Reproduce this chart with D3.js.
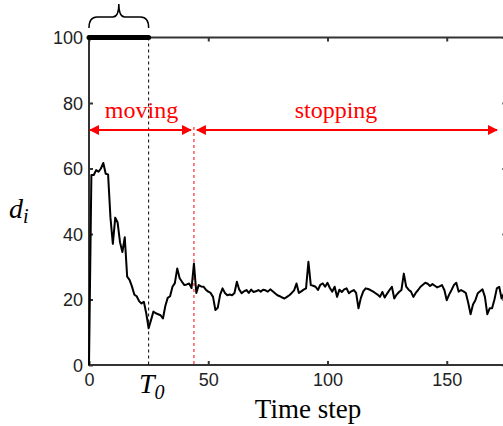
<!DOCTYPE html>
<html>
<head>
<meta charset="utf-8">
<script src="https://cdn.jsdelivr.net/npm/d3@7"></script>
<style>
  body { margin: 0; background: #fff; }
  .tick text { font-family: "Liberation Sans", Arial, sans-serif; font-size: 18px; fill: #222; }
  .serif { font-family: "Liberation Serif", "Times New Roman", serif; }
</style>
</head>
<body>
<div class="chart"></div>
<script>
'use strict';

// time steps 0..175 and d_i
var distances = [
  0, 58, 58, 59.5, 59, 60, 61.7, 58.4, 58.2, 45,
  37, 45, 43.5, 37.5, 34.5, 39, 27, 26, 24, 21.5,
  21, 19.5, 18.8, 19.3, 15.8, 11.2, 13.7, 16.3, 15.8, 15.5,
  15.2, 14.2, 18, 20.5, 21, 23.9, 25, 29.5, 26.5, 25.4,
  24.4, 24.6, 24.9, 23.5, 31, 22, 24.4, 24, 23.9, 23,
  22.4, 22, 20.8, 16.8, 17.5, 21.5, 23.4, 22, 21.3, 21.5,
  21.3, 22, 25.4, 23, 21.9, 22.5, 22.9, 22, 23, 22.3,
  22.5, 22.9, 22.4, 23, 22.8, 22.4, 23.1, 22.5, 21.9, 21.3,
  21, 20.6, 20.3, 20.8, 21.3, 22, 22.8, 24.9, 22, 22.5,
  23, 23.4, 31.5, 24.4, 24.2, 23.9, 22.9, 24.5, 24.9, 23.9,
  25.1, 23.5, 22.4, 23.9, 20.8, 23, 22.3, 23.1, 23.4, 21.9,
  22.5, 22.9, 22, 17.3, 20.5, 22.5, 23.4, 23.2, 22.9, 22.5,
  22, 21.5, 20.8, 22.3, 20.6, 21.8, 22.9, 23.9, 20.3, 21.5,
  22.3, 22.9, 27.9, 23.9, 23, 22.4, 20.8, 22, 22.9, 23.9,
  24.5, 25.1, 24.8, 24.1, 24.7, 24.2, 23.7, 24, 24.4, 22.9,
  19.8, 21.5, 22.9, 24.4, 25.1, 22.4, 22.9, 22.5, 22, 19,
  15.5, 18.5, 19.8, 21.9, 22.5, 23.1, 20.8, 15.5, 17.3, 17.3,
  20, 23.4, 23.9, 20.3, 21.9, 22
];
var xTicks = [0, 50, 100, 150];
var yTicks = [0, 20, 40, 60, 80, 100];
var T0 = 25;          // end of the moving phase (dashed black line)
var tStop = 44;       // start of the stopping phase (dashed red line)
var topValue = 100;   // thick bar at the top for t in [0, T0]

var width = 503, height = 426;
var margin = {left: 89, top: 37.5, bottom: 61};

var svg = d3.select('.chart').append('svg')
  .attr('width', width)
  .attr('height', height);

var x = d3.scaleLinear().domain([0, 175]).range([margin.left, margin.left + 175 * 2.385]);
var y = d3.scaleLinear().domain([0, 100]).range([height - margin.bottom, margin.top]);

var axisColor = '#333';

// frame
svg.append('rect')
  .attr('x', x(0)).attr('y', y(100))
  .attr('width', x(175) - x(0)).attr('height', y(0) - y(100))
  .attr('fill', 'none')
  .attr('stroke', axisColor)
  .attr('stroke-width', 2);

// axes with inward ticks
var gx = svg.append('g')
  .attr('transform', 'translate(0,' + y(0) + ')')
  .call(d3.axisBottom(x).tickValues(xTicks).tickSize(-4).tickSizeOuter(0).tickPadding(8));
var gxTop = svg.append('g')
  .attr('transform', 'translate(0,' + y(100) + ')')
  .call(d3.axisTop(x).tickValues(xTicks).tickSize(-4).tickSizeOuter(0).tickFormat(''));
var gy = svg.append('g')
  .attr('transform', 'translate(' + x(0) + ',0)')
  .call(d3.axisLeft(y).tickValues(yTicks).tickSize(-4).tickSizeOuter(0).tickPadding(6));
var gyRight = svg.append('g')
  .attr('transform', 'translate(' + x(175) + ',0)')
  .call(d3.axisRight(y).tickValues(yTicks).tickSize(-4).tickSizeOuter(0).tickFormat(''));

[gx, gxTop, gy, gyRight].forEach(function(g) {
  g.select('.domain').remove();
  g.selectAll('.tick line').attr('stroke', axisColor).attr('stroke-width', 2);
});
gy.selectAll('.tick text').attr('dy', '0.36em');

// dashed markers
svg.append('line')
  .attr('x1', x(T0)).attr('x2', x(T0))
  .attr('y1', y(100)).attr('y2', y(0))
  .attr('stroke', '#000').attr('stroke-width', 1)
  .attr('stroke-dasharray', '3,3');
svg.append('line')
  .attr('x1', x(tStop)).attr('x2', x(tStop))
  .attr('y1', 127).attr('y2', y(0))
  .attr('stroke', 'red').attr('stroke-width', 1)
  .attr('stroke-dasharray', '3,3');

// data line
var line = d3.line()
  .x(function(d, i) { return x(i); })
  .y(function(d) { return y(d); });
svg.append('path')
  .datum(distances)
  .attr('d', line)
  .attr('fill', 'none')
  .attr('stroke', '#000')
  .attr('stroke-width', 2)
  .attr('stroke-linejoin', 'round');

// thick bar at 100 during moving phase
svg.append('line')
  .attr('x1', x(0)).attr('x2', x(T0))
  .attr('y1', y(topValue)).attr('y2', y(topValue))
  .attr('stroke', '#000').attr('stroke-width', 5)
  .attr('stroke-linecap', 'round');

// curly brace above
var bx0 = x(0), bx1 = x(T0), bm = (bx0 + bx1) / 2;
var by = 28, bTop = 17, bTip = 4;
svg.append('path')
  .attr('d', 'M' + bx0 + ',' + by +
    ' Q' + bx0 + ',' + bTop + ' ' + (bx0 + 8) + ',' + bTop +
    ' L' + (bm - 6) + ',' + bTop +
    ' Q' + bm + ',' + bTop + ' ' + bm + ',' + bTip +
    ' Q' + bm + ',' + bTop + ' ' + (bm + 6) + ',' + bTop +
    ' L' + (bx1 - 8) + ',' + bTop +
    ' Q' + bx1 + ',' + bTop + ' ' + bx1 + ',' + by)
  .attr('fill', 'none')
  .attr('stroke', '#000')
  .attr('stroke-width', 1.5);

// red arrows
var defs = svg.append('defs');
defs.append('marker')
  .attr('id', 'arrow')
  .attr('viewBox', '0 0 10 10')
  .attr('refX', 9).attr('refY', 5)
  .attr('markerWidth', 5).attr('markerHeight', 5)
  .attr('orient', 'auto-start-reverse')
  .append('path')
    .attr('d', 'M0,0 L10,5 L0,10 z')
    .attr('fill', 'red');

var arrowY = 130;
var arrows = [
  {x1: x(0) + 1, x2: x(tStop) - 3},
  {x1: x(tStop) + 3, x2: 497}
];
svg.selectAll('.arrow')
  .data(arrows).enter()
  .append('line')
    .attr('class', 'arrow')
    .attr('x1', function(d) { return d.x1; })
    .attr('x2', function(d) { return d.x2; })
    .attr('y1', arrowY).attr('y2', arrowY)
    .attr('stroke', 'red').attr('stroke-width', 2)
    .attr('marker-start', 'url(#arrow)')
    .attr('marker-end', 'url(#arrow)');

svg.append('text')
  .attr('class', 'serif')
  .attr('x', (x(0) + x(tStop)) / 2).attr('y', 118)
  .attr('text-anchor', 'middle')
  .attr('font-size', 24).attr('fill', 'red')
  .text('moving');
svg.append('text')
  .attr('class', 'serif')
  .attr('x', 336).attr('y', 118)
  .attr('text-anchor', 'middle')
  .attr('font-size', 24).attr('fill', 'red')
  .text('stopping');

// labels
var dl = svg.append('text')
  .attr('class', 'serif')
  .attr('x', 9).attr('y', 218)
  .attr('font-size', 28).attr('font-style', 'italic');
dl.append('tspan').text('d');
dl.append('tspan').attr('font-size', 20).attr('dy', 5).text('i');

var tl = svg.append('text')
  .attr('class', 'serif')
  .attr('x', 139).attr('y', 393)
  .attr('font-size', 28).attr('font-style', 'italic');
tl.append('tspan').text('T');
tl.append('tspan').attr('font-size', 20).attr('dy', 6).text('0');

svg.append('text')
  .attr('class', 'serif')
  .attr('x', 308).attr('y', 418)
  .attr('text-anchor', 'middle')
  .attr('font-size', 27)
  .text('Time step');
</script>
</body>
</html>
